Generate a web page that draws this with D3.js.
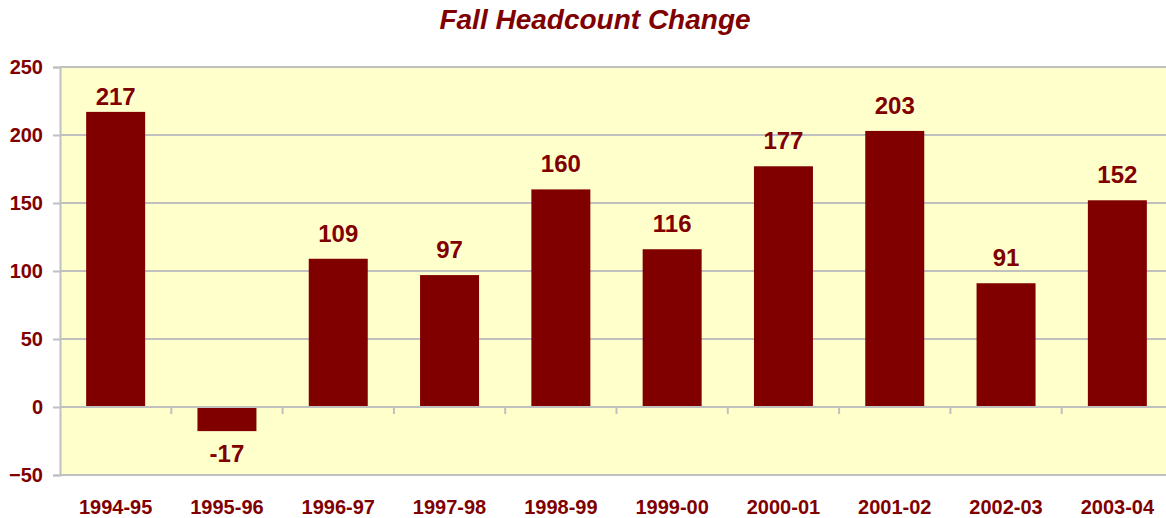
<!DOCTYPE html>
<html>
<head>
<meta charset="utf-8">
<script src="https://cdn.jsdelivr.net/npm/d3@7"></script>
<style>
  html, body { margin: 0; padding: 0; background: #fff; }
  svg { display: block; font-family: "Liberation Sans", Arial, sans-serif; }
</style>
</head>
<body>
<svg id="chart" width="1166" height="518"></svg>
<script>
// chart data
const years = ['1994-95', '1995-96', '1996-97', '1997-98', '1998-99', '1999-00', '2000-01', '2001-02', '2002-03', '2003-04'];
const change = [217, -17, 109, 97, 160, 116, 177, 203, 91, 152];
const yTicks = [-50, 0, 50, 100, 150, 200, 250];

const width = 1166, height = 518;
const margin = { top: 67, left: 60, bottom: 43 };
const plotRight = 1173; // plot runs a little past the window edge
const dark = '#800000';
const grid = '#c0c0c0';

const svg = d3.select('#chart');

// scales
const x = d3.scaleBand()
  .domain(years)
  .range([margin.left, plotRight])
  .paddingInner(0.47)
  .paddingOuter(0.235);
const y = d3.scaleLinear()
  .domain([-50, 250])
  .range([height - margin.bottom, margin.top]);

// plot background
svg.append('rect')
  .attr('x', margin.left)
  .attr('y', y(250))
  .attr('width', plotRight - margin.left)
  .attr('height', y(-50) - y(250))
  .attr('fill', '#ffffcc');

// horizontal grid lines
svg.append('g')
  .selectAll('line')
  .data(yTicks.filter(d => d !== 0))
  .enter()
  .append('line')
  .attr('x1', margin.left)
  .attr('x2', plotRight)
  .attr('y1', d => y(d))
  .attr('y2', d => y(d))
  .attr('stroke', grid)
  .attr('stroke-width', 2);

// y axis
const yAxis = svg.append('g')
  .attr('transform', `translate(${margin.left},0)`)
  .call(d3.axisLeft(y).tickValues(yTicks).tickSize(7).tickPadding(10).tickFormat(d3.format('d')));
yAxis.select('.domain').attr('stroke', grid).attr('stroke-width', 2);
yAxis.selectAll('.tick line').attr('stroke', grid).attr('stroke-width', 2);
yAxis.selectAll('.tick text')
  .attr('fill', dark)
  .attr('font-size', 20)
  .attr('font-weight', 'bold')
  .attr('font-family', '"Liberation Sans", Arial, sans-serif');

// bars
svg.append('g')
  .selectAll('rect')
  .data(change)
  .enter()
  .append('rect')
  .attr('x', (d, i) => x(years[i]))
  .attr('y', d => d >= 0 ? y(d) : y(0) + 1)
  .attr('width', x.bandwidth())
  .attr('height', d => Math.abs(y(d) - y(0)))
  .attr('fill', dark);

// zero line with category tick marks between bands
const step = x.step();
const boundaries = d3.range(1, years.length + 1).map(i => margin.left + i * step);
svg.append('line')
  .attr('x1', margin.left)
  .attr('x2', plotRight)
  .attr('y1', y(0))
  .attr('y2', y(0))
  .attr('stroke', grid)
  .attr('stroke-width', 2);
svg.append('g')
  .selectAll('line')
  .data(boundaries)
  .enter()
  .append('line')
  .attr('x1', d => d)
  .attr('x2', d => d)
  .attr('y1', y(0))
  .attr('y2', y(0) + 7)
  .attr('stroke', grid)
  .attr('stroke-width', 2);

// value labels
svg.append('g')
  .selectAll('text')
  .data(change)
  .enter()
  .append('text')
  .attr('x', (d, i) => x(years[i]) + x.bandwidth() / 2)
  .attr('y', d => d >= 0 ? Math.max(y(d) - 17, margin.top + 38) : y(d) + 32)
  .attr('text-anchor', 'middle')
  .attr('fill', dark)
  .attr('font-size', 24)
  .attr('font-weight', 'bold')
  .text(d => d);

// category labels
svg.append('g')
  .selectAll('text')
  .data(years)
  .enter()
  .append('text')
  .attr('x', d => x(d) + x.bandwidth() / 2)
  .attr('y', 514)
  .attr('text-anchor', 'middle')
  .attr('fill', dark)
  .attr('font-size', 20)
  .attr('font-weight', 'bold')
  .text(d => d);

// title
svg.append('text')
  .attr('x', 595)
  .attr('y', 29)
  .attr('text-anchor', 'middle')
  .attr('fill', dark)
  .attr('font-size', 28)
  .attr('font-weight', 'bold')
  .attr('font-style', 'italic')
  .text('Fall Headcount Change');
</script>
</body>
</html>
